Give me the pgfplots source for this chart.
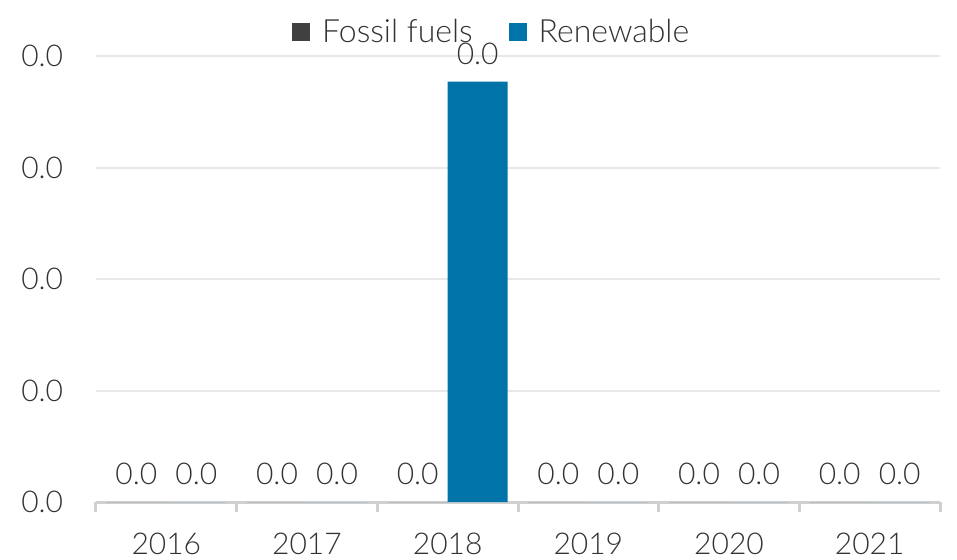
\documentclass[border=0pt]{standalone}
\usepackage{fontspec}
\setmainfont{Lato}[UprightFont={* Light}]
\usepackage{pgfplots}
\pgfplotsset{compat=1.18}
\definecolor{fossil}{HTML}{404040}
\definecolor{renew}{HTML}{0073A8}
\definecolor{gridc}{HTML}{E8E8E8}
\definecolor{axc}{HTML}{D0D0D0}
\definecolor{txt}{HTML}{333333}
\begin{document}
\begin{tikzpicture}
\begin{axis}[
  at={(0,0)}, anchor=south west,
  width=422pt, height=223pt, scale only axis,
  ybar=0pt, bar width=30pt,
  xmin=-0.5, xmax=5.5,
  ymin=0, ymax=0.04,
  ytick={0,0.01,0.02,0.03,0.04},
  scaled y ticks=false,
  xtick={0,1,2,3,4,5},
  xticklabels={2016,2017,2018,2019,2020,2021},
  minor xtick={-0.5,0.5,1.5,2.5,3.5,4.5,5.5},
  major x tick style={draw=none},
  minor x tick style={draw=axc, line width=1.5pt},
  minor tick length=5pt,
  tick align=outside,
  xtick pos=bottom,
  ytick style={draw=none},
  axis line style={draw=none},
  ymajorgrids, grid style={gridc, line width=1pt},
  extra y ticks={0}, extra y tick labels={},
  extra y tick style={grid style={axc, line width=1.5pt}},
  /pgf/number format/.cd, fixed, fixed zerofill, precision=1, assume math mode=true,
  /pgfplots/.cd,
  tick label style={font=\fontsize{15}{17}\selectfont, text=txt},
  yticklabel style={anchor=east, inner sep=0pt, xshift=-12pt},
  xticklabel style={anchor=north, inner sep=0pt, yshift=-11pt},
  nodes near coords={\pgfmathprintnumber[fixed,zerofill,precision=1]{\pgfplotspointmeta}},
  nodes near coords style={anchor=south, inner sep=0pt, yshift=8.5pt, text=txt, font=\fontsize{15}{17}\selectfont},
  legend style={at={(0.47,1)}, anchor=center, yshift=12pt, draw=none, fill=none,
    legend columns=2, font=\fontsize{16}{18}\selectfont, text=txt,
    /tikz/every odd column/.append style={column sep=4pt},
    /tikz/every even column/.append style={column sep=16pt}},
  legend image code/.code={\fill[#1] (0pt,-4.5pt) rectangle (9pt,4.5pt);},
  clip=false,
]
\addplot[fill=fossil, draw=none] coordinates {(0,0) (1,0) (2,0) (3,0) (4,0) (5,0)};
\addplot[fill=renew, draw=none] coordinates {(0,0) (1,0) (2,0.0377) (3,0) (4,0) (5,0)};
\legend{Fossil fuels, Renewable}
\end{axis}
\path[use as bounding box] (-48pt,-28.5pt) rectangle (430.5pt,251pt);
\end{tikzpicture}
\end{document}
